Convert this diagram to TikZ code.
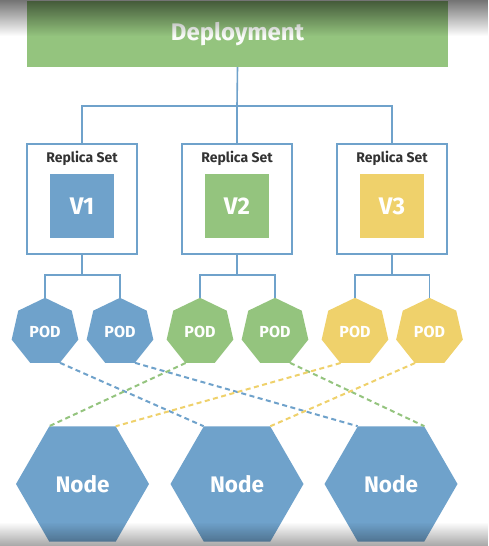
\documentclass[tikz,border=0pt]{standalone}
\usepackage{fontspec}
\setmainfont{Fira Sans}
\usetikzlibrary{shapes.geometric,fadings}
\definecolor{kblue}{RGB}{111,162,203}
\definecolor{kgreen}{RGB}{148,196,126}
\definecolor{kyellow}{RGB}{239,209,107}
\tikzfading[name=myfadedown, top color=transparent!0, bottom color=transparent!100]
\tikzfading[name=myfadeup, top color=transparent!100, bottom color=transparent!0]
\tikzset{
  tree/.style={draw=kblue, line width=1.6pt},
  rsbox/.style={draw=kblue, line width=1.8pt, fill=white, minimum width=110pt, minimum height=110pt, inner sep=0pt},
  rslabel/.style={font=\bfseries\fontsize{14}{16}\selectfont, text=black!80},
  vbox/.style={minimum width=64pt, minimum height=64pt, inner sep=0pt, text=white, font=\bfseries\fontsize{24}{28}\selectfont},
  pod/.style={regular polygon, regular polygon sides=7, minimum size=68.4pt, inner sep=0pt, text=white, font=\bfseries\fontsize{16}{18}\selectfont},
  knode/.style={regular polygon, regular polygon sides=6, minimum size=133pt, inner sep=0pt, fill=kblue, text=white, font=\bfseries\fontsize{22.5}{26}\selectfont},
  link/.style={line width=2pt, dash pattern=on 5pt off 3.5pt},
}
\begin{document}
\begin{tikzpicture}[x=1pt,y=-1pt]
\useasboundingbox (0,0) rectangle (488,546);
\fill[white] (0,0) rectangle (488,546);
% deployment
\node[fill=kgreen, minimum width=421pt, minimum height=66pt, inner sep=0pt, text=white!95!kgreen, font=\bfseries\fontsize{24}{28}\selectfont] (dep) at (237.5,34) {Deployment};
% replica sets
\foreach \i/\x/\c in {1/82/kblue,2/237/kgreen,3/392/kyellow}{
  \node[rsbox] (rs\i) at (\x,199) {};
  \node[rslabel] (rsl\i) at (\x,158) {Replica Set};
  \node[vbox, fill=\c] (v\i) at (\x,206) {V\i};
}
% tree connectors
\coordinate (bus) at (237,106);
\draw[tree] (dep.south) -- (bus);
\draw[tree] (rs1.north) |- (bus) -| (rs3.north);
\draw[tree] (bus) -- (rs2.north);
% pods
\foreach \i/\x/\c in {1/45/kblue,2/120/kblue,3/200/kgreen,4/275/kgreen,5/355/kyellow,6/429.5/kyellow}{
  \node[pod, fill=\c] (p\i) at (\x,332) {POD};
}
\coordinate (b1) at (82,275);
\coordinate (b2) at (237,275);
\coordinate (b3) at (392,275);
\draw[tree] (rs1.south) -- (b1);
\draw[tree] (p1.90) |- (b1) -| (p2.90);
\draw[tree] (rs2.south) -- (b2);
\draw[tree] (p3.90) |- (b2) -| (p4.90);
\draw[tree] (rs3.south) -- (b3);
\draw[tree] (p5.90) |- (b3) -| (p6.90);
% nodes
\node[knode] (n1) at (82.5,484) {Node};
\node[knode] (n2) at (237,484) {Node};
\node[knode] (n3) at (391,484) {Node};
% dashed links
\draw[link, kblue] (p1.-64.3) -- (n2.120);
\draw[link, kblue] (p2.-64.3) -- (n3.120);
\draw[link, kgreen] (p3.-115.7) -- (n1.120);
\draw[link, kgreen] (p4.-64.3) -- (n3.60);
\draw[link, kyellow] (p5.-115.7) -- (n1.60);
\draw[link, kyellow] (p6.-115.7) -- (n2.60);
% screen shading at top and bottom
\fill[black, fill opacity=0.55, path fading=myfadedown] (0,0) rectangle (488,36);
\fill[black, fill opacity=0.35, path fading=myfadeup] (0,522) rectangle (488,546);
\end{tikzpicture}
\end{document}
